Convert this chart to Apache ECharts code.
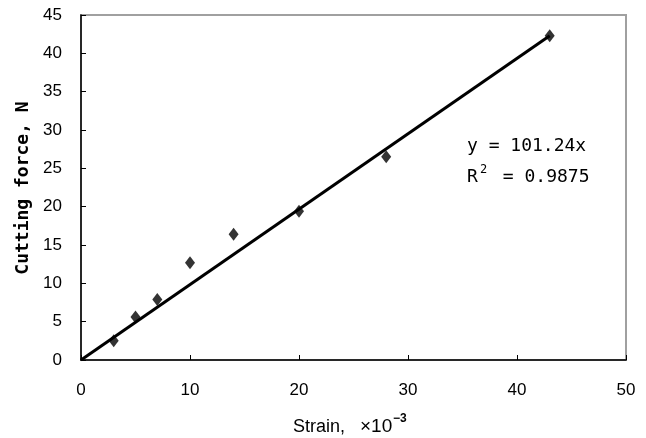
<!DOCTYPE html>
<html>
<head>
<meta charset="utf-8">
<script src="https://cdn.jsdelivr.net/npm/echarts@6/dist/echarts.min.js"></script>
<style>html,body{margin:0;padding:0;background:#fff}#c{width:646px;height:438px}</style>
</head>
<body>
<div id="c"></div>
<script>
var strain = [3, 5, 7, 10, 14, 20, 28, 43];
var force = [2.5, 5.6, 7.9, 12.7, 16.4, 19.4, 26.5, 42.3];
var trendX = [0, 43];
var trendY = [0, 42.3];
var xTicks = [0, 10, 20, 30, 40, 50];
var yTicks = [0, 5, 10, 15, 20, 25, 30, 35, 40, 45];
var xTitle = 'Strain,';
var xTitleUnit = '×10';
var xTitleExp = '−3';
var yTitle = 'Cutting force, N';
var eqLine1 = 'y = 101.24x';
var eqR = 'R';
var eqExp = '2';
var eqLine2 = ' = 0.9875';

var chart = echarts.init(document.getElementById('c'));
var tickFont = {fontFamily: '"Liberation Sans", Arial, sans-serif', fontSize: 17, color: '#000'};
var mono = '"DejaVu Sans Mono", monospace';
var sans = '"Liberation Sans", Arial, sans-serif';
function txt(x, y, text, font, size, weight, rot) {
  var o = {
    type: 'text', x: x, y: y, silent: true,
    style: {text: text, fontFamily: font, fontSize: size, fontWeight: weight || 'normal', fill: '#000',
            align: rot ? 'center' : 'left', verticalAlign: 'middle'}
  };
  if (rot) { o.rotation = Math.PI / 2; }
  return o;
}
chart.setOption({
  animation: false,
  grid: {left: 81, right: 20, top: 15, bottom: 78, show: true, borderColor: '#a0a0a0', borderWidth: 2, backgroundColor: 'transparent'},
  xAxis: {
    type: 'value', min: xTicks[0], max: xTicks[xTicks.length - 1], interval: 10,
    axisLine: {onZero: false, lineStyle: {color: '#000', width: 1.5}},
    axisTick: {inside: true, length: 5, lineStyle: {color: '#000'}},
    splitLine: {show: false},
    axisLabel: Object.assign({margin: 22}, tickFont)
  },
  yAxis: {
    type: 'value', min: yTicks[0], max: yTicks[yTicks.length - 1], interval: 5,
    axisLine: {onZero: false, lineStyle: {color: '#000', width: 1.5}},
    axisTick: {inside: true, length: 5, lineStyle: {color: '#000'}},
    splitLine: {show: false},
    axisLabel: Object.assign({margin: 19}, tickFont)
  },
  graphic: [
    txt(23, 188, yTitle, mono, 18, 'bold', true),
    txt(293, 427, xTitle, sans, 18),
    txt(360, 427, xTitleUnit, sans, 19),
    txt(393, 419, xTitleExp, sans, 12, 'bold'),
    txt(467, 146.5, eqLine1, mono, 18),
    txt(467, 177.5, eqR, mono, 18),
    txt(480, 170, eqExp, mono, 12),
    txt(492, 177.5, eqLine2, mono, 18)
  ],
  series: [{
    type: 'line',
    data: trendX.map(function (x, i) { return [x, trendY[i]]; }),
    symbol: 'none',
    lineStyle: {color: '#000', width: 3},
    z: 2
  }, {
    type: 'scatter',
    data: strain.map(function (x, i) { return [x, force[i]]; }),
    symbol: 'diamond', symbolSize: [10, 13],
    itemStyle: {color: '#000'},
    z: 3
  }]
});
</script>
</body>
</html>
